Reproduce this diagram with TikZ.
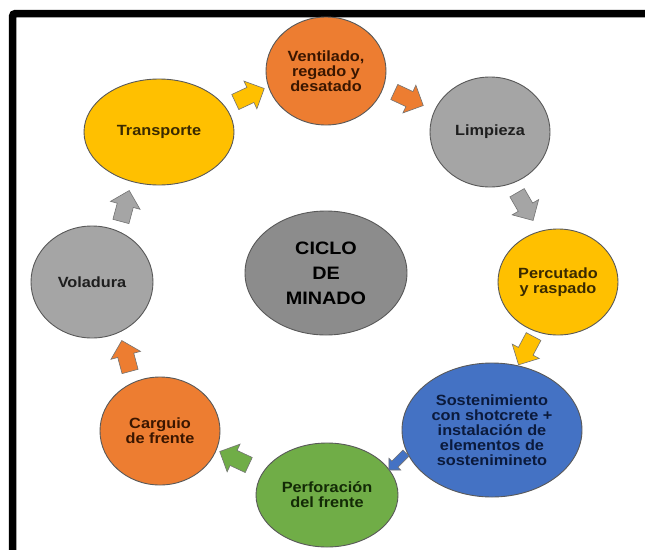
\documentclass[tikz,border=0pt]{standalone}
\usepackage{fontspec}
\setmainfont{Liberation Sans}[FakeStretch=1.1]
\usetikzlibrary{shapes.geometric,shapes.arrows}
\definecolor{corange}{HTML}{ED7D31}
\definecolor{cgray}{HTML}{A5A5A5}
\definecolor{cyellow}{HTML}{FFC000}
\definecolor{cblue}{HTML}{4472C4}
\definecolor{cgreen}{HTML}{70AD47}
\definecolor{ccenter}{HTML}{8C8C8C}
\definecolor{torange}{HTML}{3A1600}
\definecolor{tgray}{HTML}{1E1E1E}
\definecolor{tyellow}{HTML}{3A2A00}
\definecolor{tblue}{HTML}{0B1A3C}
\definecolor{tgreen}{HTML}{132A06}
\tikzset{
  stage/.style={ellipse, draw=black!65, line width=0.9pt, inner sep=0pt, align=center,
    font=\fontsize{14.8}{15}\selectfont\bfseries},
  centre/.style={ellipse, draw=black!65, line width=0.9pt, inner sep=0pt, align=center,
    fill=ccenter, text=black, font=\fontsize{18}{25}\selectfont\bfseries},
  blockarrow/.style={single arrow, draw=black!55, line width=0.6pt, inner xsep=0pt, inner ysep=8pt,
    minimum height=32pt, single arrow head extend=7pt},
}
\begin{document}
\begin{tikzpicture}[x=1pt,y=-1pt]
\useasboundingbox (0,0) rectangle (645,549);
\fill[white] (0,0) rectangle (645,549);
\draw[line width=7.5pt, rounded corners=3pt] (12.5,560) -- (12.5,13.5) -- (650,13.5);

\node[stage, fill=cyellow, text=tyellow, minimum width=150pt, minimum height=106pt] (trans) at (159,132) {Transporte};
\node[stage, fill=corange, text=torange, minimum width=120pt, minimum height=108pt] (vent) at (326,71) {Ventilado,\\regado y\\desatado};
\node[stage, fill=cgray, text=tgray, minimum width=120pt, minimum height=110pt] (limp) at (490,132) {Limpieza};
\node[stage, fill=cyellow, text=tyellow, minimum width=120pt, minimum height=106pt] (perc) at (558,282) {Percutado\\y raspado};
\node[stage, fill=cblue, text=tblue, minimum width=180pt, minimum height=134pt] (sost) at (492,430) {Sostenimiento\\con shotcrete +\\instalación de\\elementos de\\sostenimineto};
\node[stage, fill=cgreen, text=tgreen, minimum width=142pt, minimum height=104pt] (perf) at (327,495) {Perforación\\del frente};
\node[stage, fill=corange, text=torange, minimum width=120pt, minimum height=108pt] (carg) at (160,431) {Carguio\\de frente};
\node[stage, fill=cgray, text=tgray, minimum width=122pt, minimum height=112pt] (vola) at (92,282) {Voladura};
\node[centre, minimum width=162pt, minimum height=124pt] (ciclo) at (326,273) {CICLO\\DE\\MINADO};

\node[blockarrow, fill=cyellow, rotate=25] (a1) at (246,97) {};
\node[blockarrow, fill=corange, rotate=-25] (a2) at (405,97) {};
\node[blockarrow, fill=cgray, rotate=-60] (a3) at (523,203) {};
\node[blockarrow, fill=cyellow, rotate=-118] (a4) at (528,347) {};
\node[blockarrow, fill=cblue, rotate=-135, minimum height=24pt, inner ysep=4pt, single arrow head extend=4pt] (a5) at (399,460) {};
\node[blockarrow, fill=cgreen, rotate=155] (a6) at (238,460) {};
\node[blockarrow, fill=corange, rotate=105] (a7) at (127,360) {};
\node[blockarrow, fill=cgray, rotate=75] (a8) at (124,210) {};
\end{tikzpicture}
\end{document}
